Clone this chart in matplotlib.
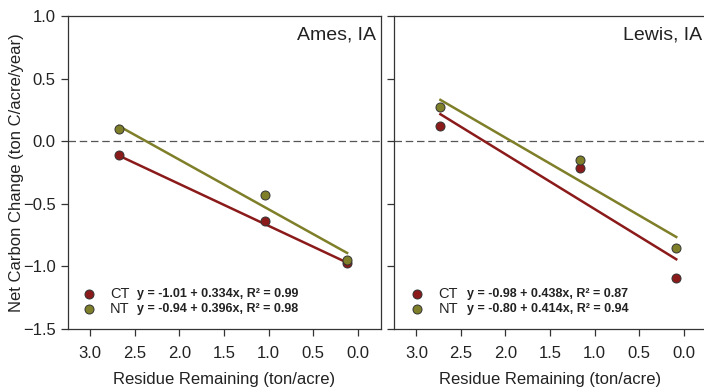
import numpy as np
import matplotlib
matplotlib.use("Agg")
import matplotlib.pyplot as plt

plt.rcParams["font.family"] = ["Liberation Sans", "DejaVu Sans"]

# ── data ─────────────────────────────────────────────────────────────────────
sites = ["Ames, IA", "Lewis, IA"]

ames_x = [2.68, 1.04, 0.12]
ames_ct = [-0.11, -0.635, -0.975]
ames_nt = [0.10, -0.43, -0.945]
ames_fit_ct = (-1.01, 0.334, 0.99)
ames_fit_nt = (-0.94, 0.396, 0.98)

lewis_x = [2.73, 1.16, 0.085]
lewis_ct = [0.12, -0.21, -1.09]
lewis_nt = [0.27, -0.15, -0.855]
lewis_fit_ct = (-0.98, 0.438, 0.87)
lewis_fit_nt = (-0.80, 0.414, 0.94)

x_ticks = [3.0, 2.5, 2.0, 1.5, 1.0, 0.5, 0.0]
y_ticks = [1.0, 0.5, 0.0, -0.5, -1.0, -1.5]

CT_COLOR = "#8b1a1a"
NT_COLOR = "#7f7f2a"

panels = [
    (sites[0], ames_x, ames_ct, ames_nt, ames_fit_ct, ames_fit_nt),
    (sites[1], lewis_x, lewis_ct, lewis_nt, lewis_fit_ct, lewis_fit_nt),
]

fig = plt.figure(figsize=(7.04, 3.89), dpi=100)
w, h, b = 0.4446, 0.8046, 0.1542
ax_l = fig.add_axes([0.0966, b, w, h])
ax_r = fig.add_axes([0.5597, b, w, h])

for i, (ax, (site, xs, ct, nt, fct, fnt)) in enumerate(zip([ax_l, ax_r], panels)):
    xs = np.array(xs)
    xfit = np.array([xs.min(), xs.max()])
    ax.axhline(0.0, color="#555555", linestyle=(0, (6, 3)), linewidth=0.9, zorder=1)

    ax.plot(xfit, fct[0] + fct[1] * xfit, color=CT_COLOR, linewidth=1.8, zorder=2)
    ax.plot(xfit, fnt[0] + fnt[1] * xfit, color=NT_COLOR, linewidth=1.8, zorder=2)
    ax.plot(xs, ct, "o", color=CT_COLOR, markersize=6.5, markeredgecolor="#333333",
            markeredgewidth=0.7, zorder=3)
    ax.plot(xs, nt, "o", color=NT_COLOR, markersize=6.5, markeredgecolor="#333333",
            markeredgewidth=0.7, zorder=3)

    ax.set_xlim(3.25, -0.26)
    ax.set_ylim(-1.5, 1.0)
    ax.set_xticks(x_ticks)
    ax.set_xticklabels([f"{t:.1f}" for t in x_ticks])
    ax.set_yticks(y_ticks)
    ax.tick_params(direction="out", length=5, width=0.9, color="#333333",
                   labelsize=12, labelcolor="#222222", pad=4)
    ax.tick_params(axis="x", pad=7)
    for s in ax.spines.values():
        s.set_linewidth(0.9)
        s.set_color("#333333")
    ax.set_xlabel("Residue Remaining (ton/acre)", fontsize=12, color="#222222", labelpad=8)

    ax.text(0.985, 0.94, site, transform=ax.transAxes, ha="right", va="center",
            fontsize=14, color="#222222")

    # legend with fitted equations
    lx = 0.066 if i == 0 else 0.073
    tx = 0.134 if i == 0 else 0.142
    ex = 0.222 if i == 0 else 0.234
    for yy, col, name, f in [(0.112, CT_COLOR, "CT", fct), (0.064, NT_COLOR, "NT", fnt)]:
        ax.plot([lx], [yy], "o", transform=ax.transAxes, color=col, markersize=6.5,
                markeredgecolor="#333333", markeredgewidth=0.7, clip_on=False)
        ax.text(tx, yy, name, transform=ax.transAxes, ha="left", va="center",
                fontsize=10.5, color="#222222")
        ax.text(ex, yy, f"y = {f[0]:.2f} + {f[1]:.3f}x, R² = {f[2]:.2f}",
                transform=ax.transAxes, ha="left", va="center", fontsize=9,
                fontweight="bold", color="#222222")

ax_l.set_ylabel("Net Carbon Change (ton C/acre/year)", fontsize=12, color="#222222")
ax_l.yaxis.set_label_coords(-0.14, 0.5)
ax_r.set_yticklabels([])
ax_r.spines["right"].set_visible(False)

fig.savefig("out.png", dpi=100)
